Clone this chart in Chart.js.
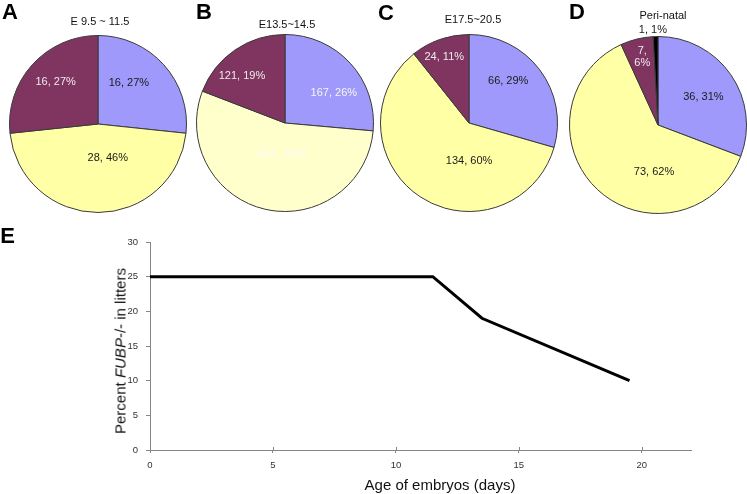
<!DOCTYPE html>
<html><head><meta charset="utf-8">
<script src="https://cdn.jsdelivr.net/npm/chart.js@4/dist/chart.umd.min.js"></script>
<style>
html,body{margin:0;padding:0;background:#fff;overflow:hidden;}
#wrap{position:relative;width:747px;height:494px;overflow:hidden;font-family:"Liberation Sans",Arial,Helvetica,sans-serif;}
canvas{position:absolute;}
.t{position:absolute;white-space:nowrap;transform:translate(-50%,-50%);line-height:1;color:#000;}
.letter{font-weight:bold;font-size:22px;}
.ptitle{font-size:11px;color:#111;}
.atitle{font-size:15px;color:#111;}
</style></head><body><div id="wrap"></div>
<script>
// ---------------- data ----------------
const genotypes   = ['+/+', '+/-', '-/-', 'other'];
const panelLetters = ['A', 'B', 'C', 'D', 'E'];
const stageTitles = ['E 9.5 ~ 11.5', 'E13.5~14.5', 'E17.5~20.5', 'Peri-natal'];

const countsA = [16, 28, 16];
const pctA    = [27, 46, 27];
const countsB = [167, 344, 121];
const pctB    = [26, 55, 19];
const countsC = [66, 134, 24];
const pctC    = [29, 60, 11];
const countsD = [36, 73, 7, 1];
const pctD    = [31, 62, 6, 1];

const ageDays   = [0, 11.5, 13.5, 19.5];
const percentKO = [25, 25, 19, 10];
const xTickVals = [0, 5, 10, 15, 20];
const yTickVals = [0, 5, 10, 15, 20, 25, 30];
const xAxisTitle = 'Age of embryos (days)';

// ---------------- styles ----------------
const FONT = '"Liberation Sans", Arial, Helvetica, sans-serif';
const BLUE = '#9e99fa', MAROON = '#803560', YEL = '#ffffa6', IVORY = '#ffffcc', BLACK = '#000000';
const DARK = '#1a1a1a', LIGHT = '#ececec';

const wrap = document.getElementById('wrap');
function addText(cls, html, x, y, extra) {
  const d = document.createElement('div');
  d.className = 't ' + cls;
  d.innerHTML = html;
  d.style.left = x + 'px'; d.style.top = y + 'px';
  if (extra) d.style.transform = extra;
  wrap.appendChild(d);
  return d;
}

const pieLabelPlugin = {
  id: 'pieLabels',
  afterDatasetsDraw(chart, args, opts) {
    const ctx = chart.ctx;
    const meta = chart.getDatasetMeta(0);
    ctx.save();
    ctx.font = opts.font;
    ctx.textAlign = 'center';
    ctx.textBaseline = 'middle';
    meta.data.forEach((arc, i) => {
      const p = opts.place[i];
      const g = arc.getProps(['x', 'y', 'startAngle', 'endAngle', 'outerRadius'], true);
      const a = g.startAngle + p[0] * (g.endAngle - g.startAngle);
      const r = g.outerRadius * p[1];
      const px = g.x + r * Math.cos(a), py = g.y + r * Math.sin(a);
      const lines = opts.text[i].split('\n');
      ctx.fillStyle = opts.colors[i];
      lines.forEach((ln, k) => ctx.fillText(ln, px, py + (k - (lines.length - 1) / 2) * opts.lineHeight));
    });
    ctx.restore();
  }
};

// x-axis tick marks that cross the axis line (drawn from the scale's own tick positions)
const crossTickPlugin = {
  id: 'crossTicks',
  afterDraw(chart, args, opts) {
    const xs = chart.scales.x, ctx = chart.ctx;
    ctx.save();
    ctx.strokeStyle = opts.color; ctx.lineWidth = 1;
    xs.ticks.forEach(t => {
      const px = Math.round(xs.getPixelForValue(t.value)) + 0.5;
      ctx.beginPath(); ctx.moveTo(px, xs.top - opts.len); ctx.lineTo(px, xs.top); ctx.stroke();
    });
    ctx.restore();
  }
};

const R = 88.5, BW = 1, PAD = 14;
const S = 2 * R + BW + 2 * PAD;

function makePie(cx, cy, counts, pct, seps, colors, labelColors, place) {
  const c = document.createElement('canvas');
  c.width = S; c.height = S;
  c.style.left = (cx - S / 2) + 'px';
  c.style.top = (cy - S / 2) + 'px';
  wrap.appendChild(c);
  const text = counts.map((v, i) => v + (seps[i] || ', ') + pct[i] + '%');
  new Chart(c, {
    type: 'pie',
    data: {
      labels: genotypes.slice(0, counts.length),
      datasets: [{ data: counts, backgroundColor: colors, borderColor: '#3a3a3a', borderWidth: BW }]
    },
    options: {
      responsive: false, animation: false, events: [],
      layout: { padding: PAD },
      plugins: {
        legend: { display: false }, tooltip: { enabled: false },
        pieLabels: { text, colors: labelColors, place, font: '11px ' + FONT, lineHeight: 12 }
      }
    },
    plugins: [pieLabelPlugin]
  });
}

makePie(98, 123.5, countsA, pctA, [], [BLUE, YEL, MAROON], [DARK, DARK, LIGHT],
  [[0.385, 0.58], [0.405, 0.40], [0.53, 0.675]]);
makePie(284.5, 123, countsB, pctB, [', ', ' , ', ', '], [BLUE, IVORY, MAROON], ['#f6f6f6', '#fafafa', LIGHT],
  [[0.61, 0.65], [0.464, 0.35], [0.383, 0.72]]);
makePie(468.5, 123, countsC, pctC, [], [BLUE, YEL, MAROON], [DARK, DARK, LIGHT],
  [[0.405, 0.65], [0.343, 0.43], [0.47, 0.80]]);
makePie(658, 125, countsD, pctD, [', ', ', ', ',\n', ', '], [BLUE, YEL, MAROON, BLACK], [DARK, DARK, LIGHT, DARK],
  [[0.53, 0.60], [0.33, 0.53], [0.54, 0.79], [0.0, 1.07]]);

// titles & letters
const titlePos = [[100, 21], [287, 23.5], [473, 19], [663, 15]];
stageTitles.forEach((s, i) => addText('ptitle', s, titlePos[i][0], titlePos[i][1]));
const letterPos = [[10, 12], [204, 12], [386, 12.5], [577, 12], [7.5, 236]];
panelLetters.forEach((s, i) => addText('letter', s, letterPos[i][0], letterPos[i][1]));

// line chart
const lc = document.createElement('canvas');
lc.width = 747; lc.height = 294;
lc.style.left = '0px'; lc.style.top = '200px';
wrap.appendChild(lc);
const axisCol = '#868686';
const tickFont = { size: 9.5, family: FONT };
new Chart(lc, {
  type: 'scatter',
  data: {
    datasets: [{
      data: ageDays.map((x, i) => ({ x, y: percentKO[i] })),
      showLine: true, borderColor: '#000', borderWidth: 3, pointRadius: 0, tension: 0, fill: false,
      borderJoinStyle: 'miter'
    }]
  },
  options: {
    responsive: false, animation: false, events: [],
    layout: { padding: { left: 0, right: 56, top: 42, bottom: 0 } },
    plugins: { legend: { display: false }, tooltip: { enabled: false }, crossTicks: { color: axisCol, len: 3 } },
    scales: {
      x: {
        type: 'linear', min: 0, max: 22,
        afterFit(s) { s.height = 44; },
        afterBuildTicks(s) { s.ticks = xTickVals.map(v => ({ value: v })); },
        ticks: { font: tickFont, color: '#333', padding: 7, maxRotation: 0, autoSkip: false },
        grid: { drawOnChartArea: false, tickLength: 3, color: axisCol },
        border: { color: axisCol, width: 1 }
      },
      y: {
        type: 'linear', min: 0, max: 30,
        afterFit(s) { s.width = 150; },
        afterBuildTicks(s) { s.ticks = yTickVals.map(v => ({ value: v })); },
        ticks: { font: tickFont, color: '#333', padding: 8, autoSkip: false },
        grid: { drawOnChartArea: false, tickLength: 4, color: axisCol },
        border: { color: axisCol, width: 1 }
      }
    }
  },
  plugins: [crossTickPlugin]
});

addText('atitle', 'Percent <i>FUBP</i>-/- in litters', 120, 351, 'translate(-50%,-50%) rotate(-90deg)');
addText('atitle', xAxisTitle, 440, 483.5);
</script></body></html>
